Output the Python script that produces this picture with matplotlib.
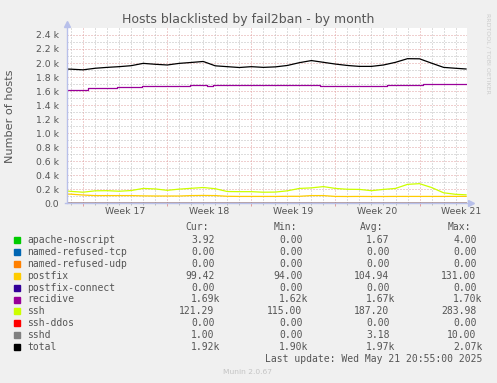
import matplotlib
matplotlib.use("Agg")
import matplotlib.pyplot as plt
from matplotlib.patches import Rectangle

W, H = 497, 383

# 时间轴（天），0 = 2025-05-18 周日 00:00，最后更新 5/21 20:55
t_start, t_end = -29.34, 3.87
days = [-29.34, -29, -28, -27, -26, -25, -24, -23, -22, -21, -20, -19, -18, -17,
        -16, -15, -14, -13, -12, -11, -10, -9, -8, -7, -6, -5, -4, -3, -2, -1,
        0, 1, 2, 3, 3.87]

total = [1914, 1912, 1903, 1925, 1938, 1948, 1962, 1995, 1982, 1972, 1995, 2008,
         2022, 1960, 1948, 1936, 1948, 1938, 1945, 1965, 2005, 2035, 2010, 1985,
         1965, 1952, 1952, 1972, 2010, 2062, 2060, 1998, 1938, 1925, 1915]
ssh = [175, 170, 158, 178, 180, 172, 182, 212, 205, 185, 202, 214, 225, 208, 168,
       166, 166, 158, 160, 178, 212, 220, 238, 212, 200, 198, 180, 198, 212, 270,
       280, 225, 150, 128, 121]
postfix = [132, 130, 118, 110, 110, 110, 110, 106, 104, 104, 104, 110, 112, 110,
           100, 98, 98, 98, 98, 100, 100, 110, 110, 98, 97, 98, 97, 97, 98, 98, 98,
           98, 98, 99, 99]

recidive_t = [-29.34, -27.6, -25.2, -23.1, -19.1, -17.7, -17.2, -8.3, -2.7, 0.3, 3.87]
recidive = [1618, 1640, 1655, 1668, 1683, 1676, 1683, 1670, 1684, 1697, 1697]
sshd_t = [-29.34, -25.33, -25.1, -23.8, -20.76, 3.4, 3.87]
sshd = [0, 10, 0, 10, 0, 1, 1]
apache_t = [-29.34, -20, -10, 0, 3.87]
apache = [2, 0, 1, 2, 3.92]
zero_t = [t_start, t_end]
zero = [0, 0]

weeks = ["Week 17", "Week 18", "Week 19", "Week 20", "Week 21"]
week_mid = [-24.5, -17.5, -10.5, -3.5, 3.5]

# 图例表
names = ["apache-noscript", "named-refused-tcp", "named-refused-udp", "postfix",
         "postfix-connect", "recidive", "ssh", "ssh-ddos", "sshd", "total"]
colors = ["#00CC00", "#0066B3", "#FF8000", "#FFCC00", "#330099", "#990099",
          "#CCFF00", "#FF0000", "#808080", "#000000"]
cur = ["3.92", "0.00", "0.00", "99.42", "0.00", "1.69k", "121.29", "0.00", "1.00", "1.92k"]
mins = ["0.00", "0.00", "0.00", "94.00", "0.00", "1.62k", "115.00", "0.00", "0.00", "1.90k"]
avg = ["1.67", "0.00", "0.00", "104.94", "0.00", "1.67k", "187.20", "0.00", "3.18", "1.97k"]
maxs = ["4.00", "0.00", "0.00", "131.00", "0.00", "1.70k", "283.98", "0.00", "10.00", "2.07k"]

series = [
    (apache_t, apache, "steps-post"),
    (zero_t, zero, "default"),
    (zero_t, zero, "default"),
    (days, postfix, "default"),
    (zero_t, zero, "default"),
    (recidive_t, recidive, "steps-post"),
    (days, ssh, "default"),
    (zero_t, zero, "default"),
    (sshd_t, sshd, "steps-post"),
    (days, total, "default"),
]

font_c = "#555555"
axis_c = "#b8c0ea"
grid_c = "#bdbdbd"
mgrid_c = "#e0a0a0"

fig = plt.figure(figsize=(W / 100, H / 100), dpi=100, facecolor="#F0F0F0")
ax = fig.add_axes([67 / W, 1 - 203.3 / H, 400 / W, 175 / H])
ax.set_facecolor("white")
ax.set_xlim(t_start, 3.95)
ax.set_ylim(0, 2495)

# 网格（点线）
for v in range(100, 2500, 100):
    ax.axhline(v, color=mgrid_c if v % 200 == 0 else grid_c, lw=0.72,
               ls=(0, (1, 2)), zorder=1)
for d in range(-29, 4):
    ax.axvline(d, color=mgrid_c if d % 7 == 0 else grid_c, lw=0.72,
               ls=(0, (1, 2)), zorder=1)
    ax.vlines(d, -0.018 if d % 7 == 0 else -0.01, 0, transform=ax.get_xaxis_transform(),
              color=mgrid_c if d % 7 == 0 else grid_c, lw=0.72, clip_on=False)

for (t, v, ds), c in zip(series, colors):
    ax.plot(t, v, color=c, lw=0.9, drawstyle=ds, zorder=3)

for s in ax.spines.values():
    s.set_visible(False)

# 坐标轴与箭头
ax.plot([0, 0], [0, 1.01], transform=ax.transAxes, color=axis_c, lw=1,
        clip_on=False, zorder=5)
ax.plot([0], [1.024], marker="^", ms=4.5, color=axis_c, transform=ax.transAxes,
        clip_on=False, zorder=5)
ax.plot([-0.005, 1.0], [0, 0], transform=ax.transAxes, color=axis_c, lw=1,
        clip_on=False, zorder=5)
ax.plot([1.009], [0], marker=">", ms=4.5, color=axis_c, transform=ax.transAxes,
        clip_on=False, zorder=5)

yt = list(range(0, 2500, 200))
ax.set_yticks(yt, ["0.0" if v == 0 else f"{v / 1000:.1f} k" for v in yt])
ax.set_xticks(week_mid, weeks)
ax.tick_params(axis="y", length=0, pad=5.5, labelsize=6.7, labelcolor=font_c)
ax.tick_params(axis="x", length=0, pad=3, labelsize=6.7, labelcolor=font_c)

def fx(px):
    return px / W

def fy(py):
    return 1 - py / H

fig.text(fx(248.5), fy(22.5), "Hosts blacklisted by fail2ban - by month",
         ha="center", va="baseline", fontsize=9, color=font_c)
fig.text(fx(10.5), fy(115.8), "Number of hosts", rotation=90, ha="center",
         va="center", fontsize=8.1, color=font_c)
fig.text(fx(487.5), fy(53.5), "RRDTOOL / TOBI OETIKER", rotation=270, ha="center",
         va="center", fontsize=4.5, color="#cccccc")

mono = "DejaVu Sans Mono"
cw = 5.87
cols = [214.5, 302.5, 389.5, 476.5]
for hdr, col in zip(["Cur:", "Min:", "Avg:", "Max:"], cols):
    fig.text(fx(col - cw), fy(226.5), hdr, ha="right", va="center", family=mono,
             fontsize=7, color=font_c)

for i, name in enumerate(names):
    y = 240 + i * 11.9
    fig.patches.append(Rectangle((fx(14), fy(y + 3)), 6 / W, 6 / H,
                                 transform=fig.transFigure, color=colors[i]))
    fig.text(fx(27), fy(y), name, ha="left", va="center", family=mono,
             fontsize=7, color=font_c)
    for vals, col in zip([cur, mins, avg, maxs], cols):
        s = vals[i]
        xr = col + cw if s.endswith("k") else col
        fig.text(fx(xr), fy(y), s, ha="right", va="center", family=mono,
                 fontsize=7, color=font_c)

fig.text(fx(482.5), fy(359.5), "Last update: Wed May 21 20:55:00 2025", ha="right",
         va="center", family=mono, fontsize=7, color=font_c)
fig.text(fx(247.5), fy(372), "Munin 2.0.67", ha="center", va="center",
         fontsize=5.4, color="#c4c4c4")

fig.savefig("out.png", dpi=100, facecolor=fig.get_facecolor())
